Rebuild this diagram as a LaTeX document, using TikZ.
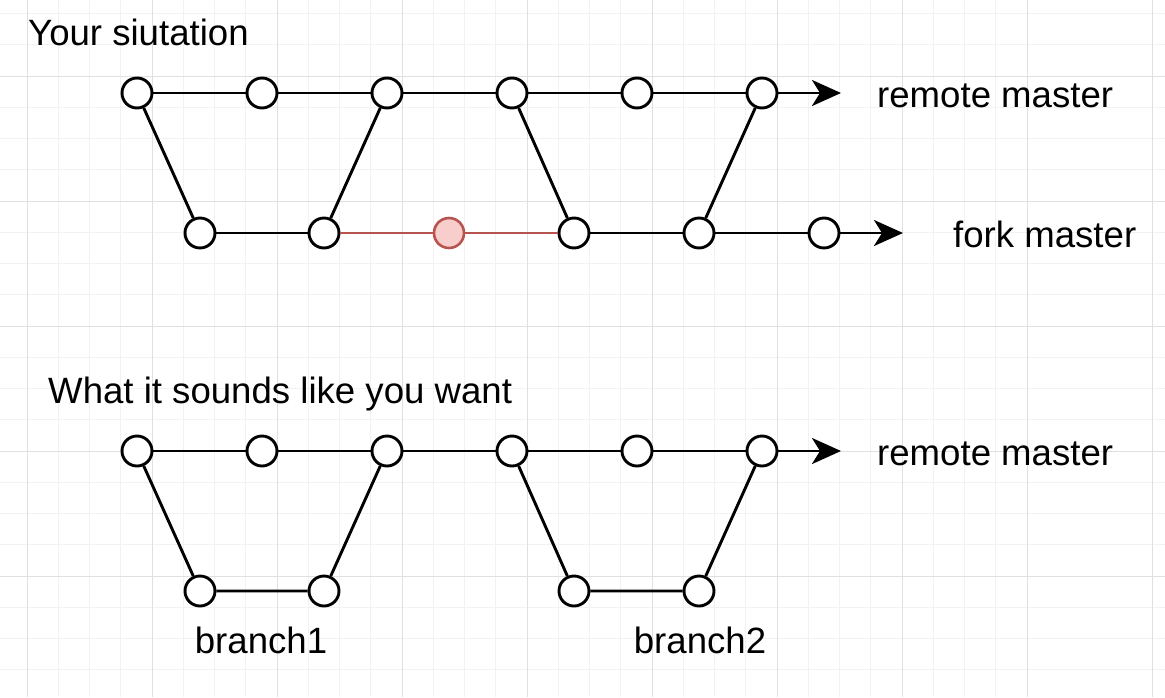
\documentclass[tikz,border=0pt]{standalone}
\usepackage{fontspec}
\setmainfont{Liberation Sans}
\usetikzlibrary{arrows.meta}
\definecolor{grid-minor}{HTML}{F2F2F2}
\definecolor{grid-major}{HTML}{E0E0E0}
\definecolor{fork-fill}{HTML}{F8CECC}
\definecolor{fork-line}{HTML}{B85450}

\begin{document}
\begin{tikzpicture}[x=1pt, y=-1pt,
        every node/.style={font=\fontsize{36.6}{40}\selectfont},
        commit/.style={circle, draw=black, fill=white, line width=2.9pt,
            minimum size=30pt, inner sep=0pt},
        extra/.style={commit, draw=fork-line, fill=fork-fill, line width=2.6pt},
        link/.style={line width=2.9pt},
        head/.style={line width=2.9pt, -{Stealth[length=29pt, width=26pt, inset=8pt]}}]
      \useasboundingbox (0,0) rectangle (1165,697);
      % background grid
      \foreach \gx in {0,...,36} {
        \draw[grid-minor, line width=1pt] ({27+31.25*\gx-125},0) -- ({27+31.25*\gx-125},697);
      }
      \foreach \gy in {0,...,22} {
        \draw[grid-minor, line width=1pt] (0,{13.5+31.25*\gy}) -- (1165,{13.5+31.25*\gy});
      }
      \foreach \gx in {0,...,9} {
        \draw[grid-major, line width=1pt] ({27+125*\gx},0) -- ({27+125*\gx},697);
      }
      \foreach \gy in {0,...,4} {
        \draw[grid-major, line width=1pt] (0,{76+125*\gy}) -- (1165,{76+125*\gy});
      }

      % your situation
      \node[anchor=base west, inner sep=0pt] (title1) at (28,45) {Your siutation};
      \node[commit] (r1) at (137,93) {};
      \node[commit] (r2) at (262,93) {};
      \node[commit] (r3) at (387,93) {};
      \node[commit] (r4) at (512,93) {};
      \node[commit] (r5) at (637,93) {};
      \node[commit] (r6) at (762,93) {};
      \coordinate (rend) at (841,93);
      \node[commit] (f1) at (200,233) {};
      \node[commit] (f2) at (324,233) {};
      \node[extra] (f3) at (449,233) {};
      \node[commit] (f4) at (574,233) {};
      \node[commit] (f5) at (699,233) {};
      \node[commit] (f6) at (824,233) {};
      \coordinate (fend) at (903,233);
      \draw[link] (r1) -- (r2) -- (r3) -- (r4) -- (r5) -- (r6);
      \draw[head] (r6) -- (rend);
      \draw[link] (f1) -- (f2);
      \draw[fork-line, line width=2.6pt] (f2) -- (f3) -- (f4);
      \draw[link] (f4) -- (f5) -- (f6);
      \draw[head] (f6) -- (fend);
      \draw[link] (r1) -- (f1);
      \draw[link] (f2) -- (r3);
      \draw[link] (r4) -- (f4);
      \draw[link] (f5) -- (r6);
      \node[anchor=base west, inner sep=0pt] (lbl-rm1) at (877,107) {remote master};
      \node[anchor=base west, inner sep=0pt] (lbl-fm) at (953,247) {fork master};

      % what it sounds like you want
      \node[anchor=base west, inner sep=0pt] (title2) at (48,403) {What it sounds like you want};
      \node[commit] (s1) at (137,451) {};
      \node[commit] (s2) at (262,451) {};
      \node[commit] (s3) at (387,451) {};
      \node[commit] (s4) at (512,451) {};
      \node[commit] (s5) at (637,451) {};
      \node[commit] (s6) at (762,451) {};
      \coordinate (send) at (841,451);
      \node[commit] (b1) at (200,591) {};
      \node[commit] (b2) at (324,591) {};
      \node[commit] (b3) at (574,591) {};
      \node[commit] (b4) at (699,591) {};
      \draw[link] (s1) -- (s2) -- (s3) -- (s4) -- (s5) -- (s6);
      \draw[head] (s6) -- (send);
      \draw[link] (s1) -- (b1) -- (b2) -- (s3);
      \draw[link] (s4) -- (b3) -- (b4) -- (s6);
      \node[anchor=base west, inner sep=0pt] (lbl-rm2) at (877,465) {remote master};
      \node[anchor=base, inner sep=0pt] (lbl-b1) at (261,653) {branch1};
      \node[anchor=base, inner sep=0pt] (lbl-b2) at (700,653) {branch2};
    \end{tikzpicture}
\end{document}
